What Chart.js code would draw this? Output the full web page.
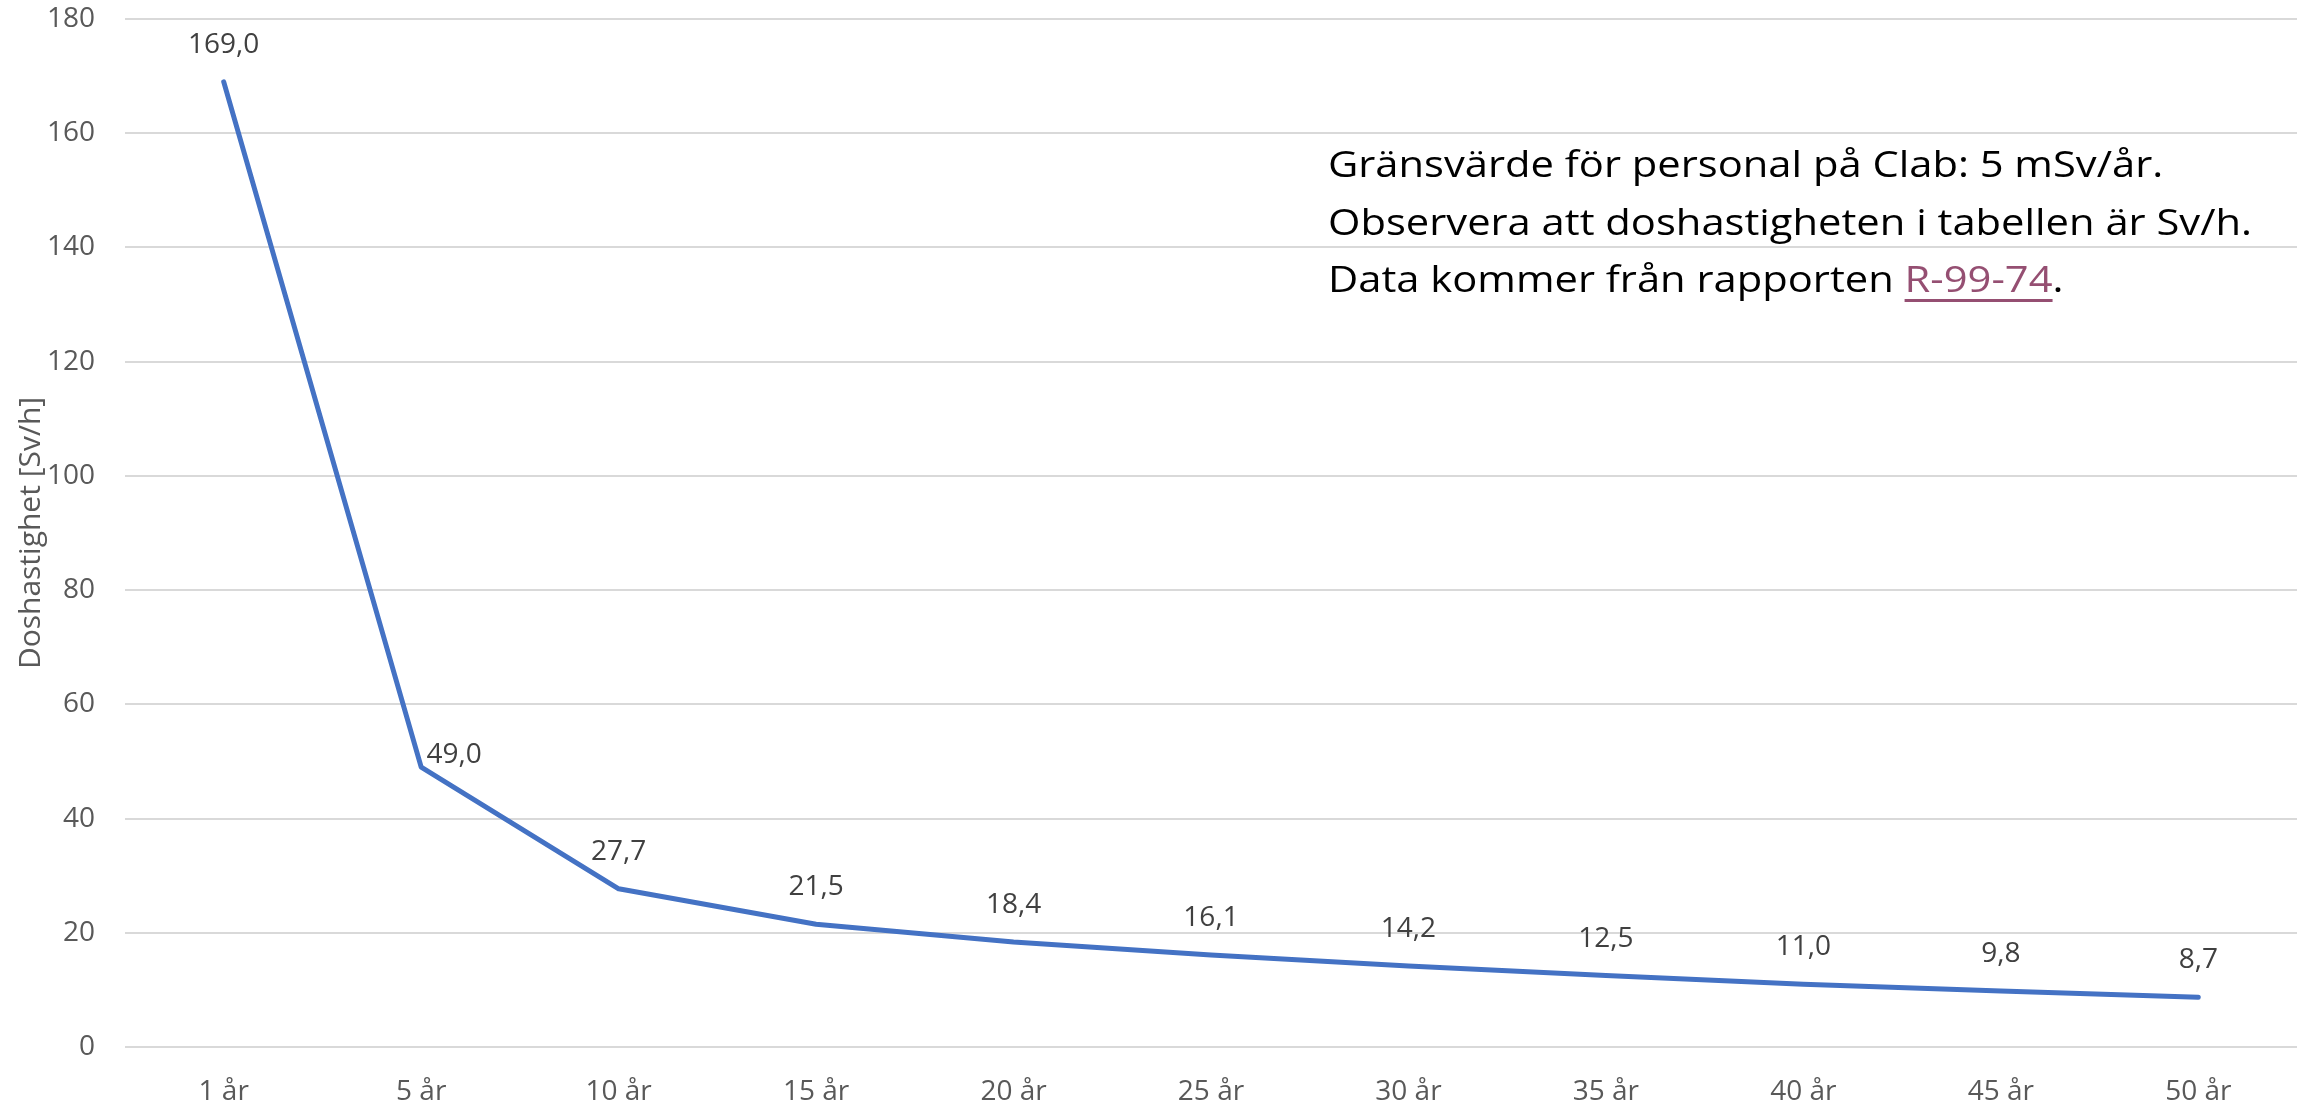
<!DOCTYPE html>
<html>
<head>
<meta charset="utf-8">
<script src="https://cdn.jsdelivr.net/npm/chart.js@4"></script>
<style>
  html, body { margin: 0; padding: 0; background: #fff; }
  #wrap { width: 2311px; height: 1104px; position: relative; }
</style>
</head>
<body>
<div id="wrap"><canvas id="doseChart"></canvas></div>
<script>
/* =========================
   DATA
========================= */
const years = ['1 år', '5 år', '10 år', '15 år', '20 år', '25 år', '30 år', '35 år', '40 år', '45 år', '50 år'];
const doseRate = [169.0, 49.0, 27.7, 21.5, 18.4, 16.1, 14.2, 12.5, 11.0, 9.8, 8.7];
const yTitle = 'Doshastighet [Sv/h]';
const noteLines = [
    'Gränsvärde för personal på Clab: 5 mSv/år.',
    'Observera att doshastigheten i tabellen är Sv/h.',
    'Data kommer från rapporten '
];
const noteLink = 'R-99-74';

/* =========================
   DATA LABELS (above each point)
========================= */
const valueLabels = {
    id: 'valueLabels',
    afterDatasetsDraw(chart){
        const ctx = chart.ctx;
        const meta = chart.getDatasetMeta(0);
        ctx.save();
        ctx.font = '28px "Open Sans"';
        ctx.fillStyle = '#404040';
        ctx.textAlign = 'center';
        ctx.textBaseline = 'middle';
        meta.data.forEach((pt, i) => {
            let dx = 0, dy = -37;
            if(i === 1){ dx = 33; dy = -12; } // moved to the right in the original
            let txt = doseRate[i].toFixed(1).replace('.', ',');
            ctx.fillText(txt, pt.x + dx, pt.y + dy);
        });
        ctx.restore();
    }
};

/* =========================
   TEXT BOX (top right)
========================= */
const noteBox = {
    id: 'noteBox',
    afterDraw(chart){
        const ctx = chart.ctx;
        const x = 1328;
        const base = [177, 235, 292];
        ctx.save();
        ctx.font = '37px "Open Sans"';
        ctx.textBaseline = 'alphabetic';
        // squeeze to the width of the original (narrower font)
        const want = 924;
        const have = ctx.measureText(noteLines[1]).width;
        const sx = want / have;
        ctx.translate(x, 0);
        ctx.scale(sx, 1);
        ctx.fillStyle = '#000';
        noteLines.forEach((t, i) => ctx.fillText(t, 0, base[i]));
        const w = ctx.measureText(noteLines[2]).width;
        const lw = ctx.measureText(noteLink).width;
        ctx.fillStyle = '#954F72';
        ctx.fillText(noteLink, w, base[2]);
        ctx.fillRect(w, base[2] + 7, lw, 3);
        ctx.fillStyle = '#000';
        ctx.fillText('.', w + lw, base[2]);
        ctx.restore();
    }
};

/* =========================
   CHART
========================= */
new Chart(document.getElementById('doseChart'), {
    type: 'line',
    data: {
        labels: years,
        datasets: [{
            data: doseRate,
            borderColor: '#4472C4',
            borderWidth: 5,
            borderCapStyle: 'round',
            borderJoinStyle: 'round',
            pointRadius: 0,
            fill: false,
            tension: 0
        }]
    },
    options: {
        responsive: true,
        maintainAspectRatio: false,
        animation: false,
        layout: { padding: { top: 19, right: 14, left: 0, bottom: 0 } },
        plugins: {
            legend: { display: false },
            tooltip: { enabled: false }
        },
        scales: {
            x: {
                offset: true,
                grid: { display: false, drawTicks: false },
                border: { display: false },
                ticks: {
                    color: '#595959',
                    font: { family: 'Open Sans', size: 28 },
                    padding: 28
                },
                afterFit(s){ s.height = 57; }
            },
            y: {
                min: 0,
                max: 180,
                ticks: {
                    stepSize: 20,
                    color: '#595959',
                    font: { family: 'Open Sans', size: 28 },
                    padding: 30
                },
                grid: { color: '#d9d9d9', lineWidth: 2, drawTicks: false },
                border: { display: false },
                title: {
                    display: true,
                    text: yTitle,
                    color: '#595959',
                    font: { family: 'Open Sans', size: 30 },
                    padding: { top: 13, bottom: 0 }
                },
                afterFit(s){
                    s.width = 125;
                    s.paddingTop = 0;
                    s.paddingBottom = 0;
                }
            }
        }
    },
    plugins: [valueLabels, noteBox]
});
</script>
</body>
</html>
